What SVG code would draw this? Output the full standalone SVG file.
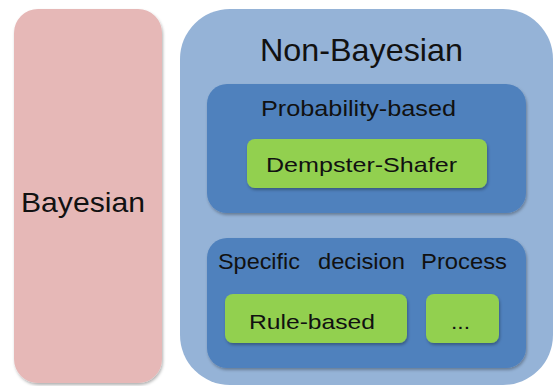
<svg xmlns="http://www.w3.org/2000/svg" width="555" height="386" viewBox="0 0 555 386">
  <defs>
    <filter id="shadow" x="-10%" y="-10%" width="130%" height="140%">
      <feDropShadow dx="1" dy="2" stdDeviation="1.5" flood-color="#000" flood-opacity="0.3"/>
    </filter>
  </defs>
  <style>
    .lbl { font-family: "Liberation Sans", Arial, sans-serif; fill: #111; }
    .pink { fill: #e6b8b7; }
    .outer { fill: #95b3d7; }
    .group { fill: #4f81bd; }
    .item { fill: #92d050; }
  </style>
  <rect width="555" height="386" fill="#ffffff"/>

  <g id="bayesian">
    <rect class="pink" x="14" y="9" width="148" height="374" rx="24" filter="url(#shadow)"/>
    <text class="lbl" x="83" y="212" font-size="28" text-anchor="middle" textLength="124" lengthAdjust="spacingAndGlyphs">Bayesian</text>
  </g>

  <g id="non-bayesian">
    <rect class="outer" x="180" y="9" width="373" height="376" rx="50"/>
    <text class="lbl" x="361.5" y="61" font-size="32" text-anchor="middle" textLength="203" lengthAdjust="spacingAndGlyphs">Non-Bayesian</text>
  </g>

  <g id="probability-based">
    <rect class="group" x="207" y="84" width="319" height="129" rx="20" filter="url(#shadow)"/>
    <text class="lbl" x="358.5" y="116" font-size="22" text-anchor="middle" textLength="195" lengthAdjust="spacingAndGlyphs">Probability-based</text>
  </g>

  <g id="dempster-shafer">
    <rect class="item" x="247" y="139" width="240" height="49" rx="8" filter="url(#shadow)"/>
    <text class="lbl" x="361.5" y="172" font-size="21" text-anchor="middle" textLength="191" lengthAdjust="spacingAndGlyphs">Dempster-Shafer</text>
  </g>

  <g id="specific-decision-process">
    <rect class="group" x="207" y="238" width="319" height="130" rx="20" filter="url(#shadow)"/>
    <text class="lbl" y="269" font-size="22"><tspan x="218" textLength="82" lengthAdjust="spacingAndGlyphs">Specific</tspan><tspan x="318" textLength="87" lengthAdjust="spacingAndGlyphs">decision</tspan><tspan x="421" textLength="86" lengthAdjust="spacingAndGlyphs">Process</tspan></text>
  </g>

  <g id="rule-based">
    <rect class="item" x="225" y="294" width="182" height="49" rx="8" filter="url(#shadow)"/>
    <text class="lbl" x="312" y="329" font-size="21" text-anchor="middle" textLength="126" lengthAdjust="spacingAndGlyphs">Rule-based</text>
  </g>

  <g id="more">
    <rect class="item" x="426" y="294" width="73" height="49" rx="8" filter="url(#shadow)"/>
    <text class="lbl" x="460.5" y="329" font-size="21" text-anchor="middle" textLength="19" lengthAdjust="spacingAndGlyphs">...</text>
  </g>

  <g id="connectors"/>
</svg>
